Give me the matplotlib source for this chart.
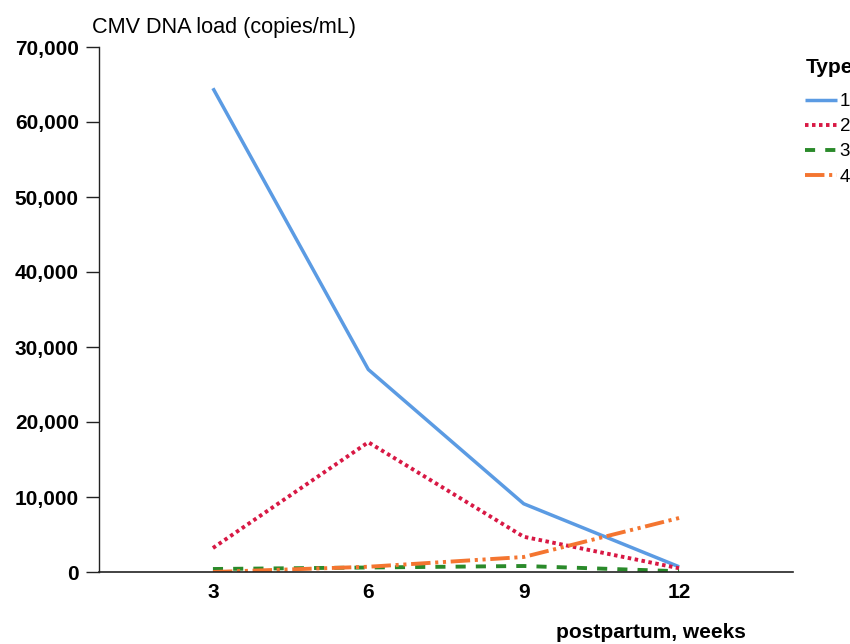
import matplotlib
matplotlib.use("Agg")
import matplotlib.pyplot as plt
from matplotlib.ticker import FuncFormatter

plt.rcParams["font.family"] = ["Liberation Sans", "DejaVu Sans"]

# weeks postpartum
weeks = [3, 6, 9, 12]
type_labels = ["1", "2", "3", "4"]
type1 = [64500, 27000, 9100, 700]
type2 = [3200, 17300, 4700, 500]
type3 = [400, 600, 800, 100]
type4 = [0, 700, 2000, 7200]

y_ticks = [0, 10000, 20000, 30000, 40000, 50000, 60000, 70000]

STYLES = [
    dict(color="#5b9be3", linestyle="-", linewidth=2.5),
    dict(color="#d81844", linestyle=(0, (0.9, 0.9)), linewidth=2.8),
    dict(color="#2a8a2a", linestyle=(0, (2.6, 2.6)), linewidth=2.8),
    dict(color="#f47530", linestyle=(0, (5.0, 1.2, 0.8, 1.2, 0.8, 1.2)), linewidth=2.8),
]


def main() -> None:
    fig = plt.figure(figsize=(8.5, 6.44), dpi=100)
    ax = fig.add_axes([99 / 850, 1 - 572 / 644, (793 - 99) / 850, (572 - 47) / 644])

    series = [type1, type2, type3, type4]
    handles = []
    for values, style in zip(series, STYLES):
        (ln,) = ax.plot(weeks, values, solid_capstyle="butt", dash_capstyle="butt", **style)
        handles.append(ln)

    ax.set_xlim(0.8, 14.2)
    ax.set_ylim(0, 70000)
    ax.set_xticks(weeks)
    ax.set_yticks(y_ticks)
    ax.yaxis.set_major_formatter(FuncFormatter(lambda v, _: f"{int(v):,}"))
    ax.tick_params(axis="x", length=0, pad=8, labelsize=15)
    ax.tick_params(axis="y", length=9.5, width=1.0, pad=5, labelsize=15, color="#222222")
    for lbl in ax.get_xticklabels() + ax.get_yticklabels():
        lbl.set_fontweight("bold")
    ax.spines["top"].set_visible(False)
    ax.spines["right"].set_visible(False)
    ax.spines["left"].set_color("#222222")
    ax.spines["bottom"].set_color("#222222")
    ax.spines["left"].set_linewidth(1.0)
    ax.spines["bottom"].set_linewidth(1.2)

    fig.text(92 / 850, 1 - 33 / 644, "CMV DNA load (copies/mL)", fontsize=15.6,
             va="baseline", ha="left")
    fig.text(556 / 850, 1 - 638 / 644, "postpartum, weeks", fontsize=15,
             fontweight="bold", va="baseline", ha="left")
    # the reference crops the legend title at the right edge
    fig.text(806 / 850, 1 - 73 / 644, "Type", fontsize=15, fontweight="bold",
             va="baseline", ha="left")

    fig.legend(
        handles,
        type_labels,
        loc="upper left",
        bbox_to_anchor=(805 / 850, 1 - 93 / 644),
        frameon=False,
        fontsize=13.5,
        handlelength=1.7,
        handletextpad=0.15,
        labelspacing=0.43,
        borderpad=0,
        borderaxespad=0,
    )

    fig.savefig("out.png", dpi=100)
    plt.close(fig)


if __name__ == "__main__":
    main()
